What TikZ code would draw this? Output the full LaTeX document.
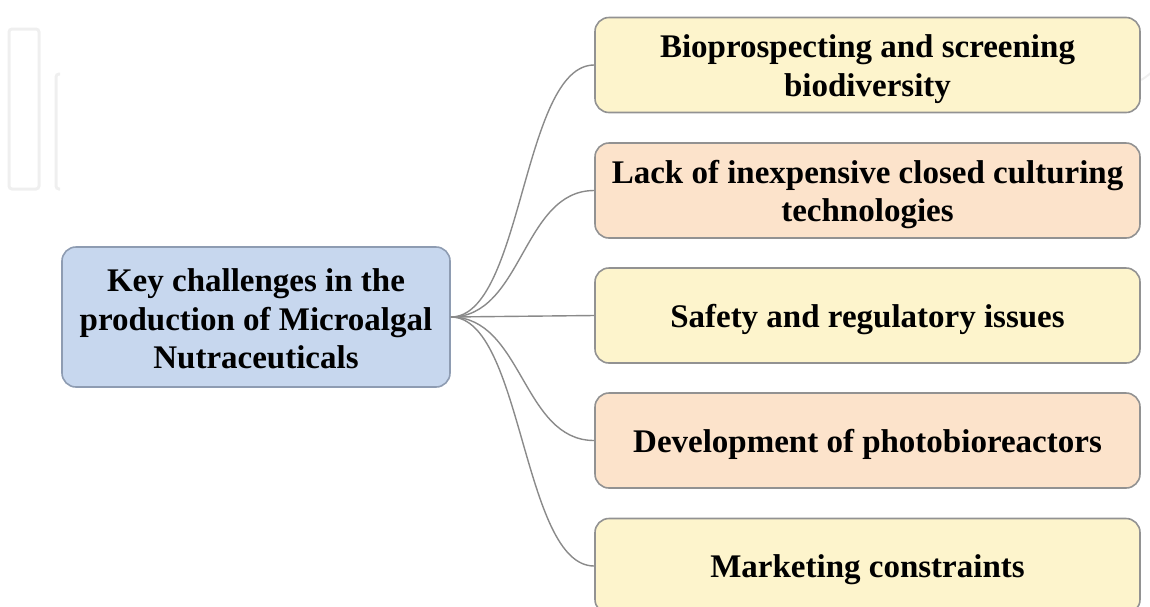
\documentclass[tikz,border=0pt]{standalone}
\usepackage{fontspec}
\setmainfont{Liberation Serif}
\definecolor{rootfill}{HTML}{C7D7EE}
\definecolor{rootline}{HTML}{8E9CB2}
\definecolor{yellowfill}{HTML}{FDF4CC}
\definecolor{orangefill}{HTML}{FCE3CB}
\definecolor{boxline}{HTML}{929292}
\definecolor{linkgray}{HTML}{8A8A8A}
\definecolor{markgray}{HTML}{EFEFEF}
\tikzset{
  box/.style={draw=boxline, line width=1.6pt, rounded corners=14pt,
    minimum width=545pt, minimum height=95pt, inner sep=0pt},
  txt/.style={align=center, inner sep=0pt, yshift=-4pt,
    font=\fontsize{33}{38.5}\selectfont\bfseries},
  rootbox/.style={box, draw=rootline, fill=rootfill, minimum width=388pt, minimum height=140pt},
  ybox/.style={box, fill=yellowfill},
  obox/.style={box, fill=orangefill},
  link/.style={draw=linkgray, line width=1.4pt},
  faintmark/.style={draw=markgray, line width=3pt, rounded corners=3pt}
}
\begin{document}
\begin{tikzpicture}[x=1pt, y=-1pt]
\useasboundingbox (0,0) rectangle (1150,606);
% faint marks in the upper left and right margins
\draw[faintmark] (9,29) rectangle (39,189);
\draw[faintmark] (60,74) -- (56,74) -- (56,189) -- (60,189);
\draw[draw=markgray, line width=2pt] (1141,80) arc[start angle=-60, end angle=60, radius=60pt];

% root node
\node[rootbox, label={[txt, yshift=2pt]center:{Key challenges in the\\production of Microalgal\\Nutraceuticals}}] (root) at (256,317) {};

% challenge nodes
\node[ybox, label={[txt]center:{Bioprospecting and screening\\biodiversity}}] (c1) at (867.5,65) {};
\node[obox, label={[txt]center:{Lack of inexpensive closed culturing\\technologies}}] (c2) at (867.5,190.5) {};
\node[ybox, label={[txt]center:{Safety and regulatory issues}}] (c3) at (867.5,315.5) {};
\node[obox, label={[txt]center:{Development of photobioreactors}}] (c4) at (867.5,440.5) {};
\node[ybox, label={[txt]center:{Marketing constraints}}] (c5) at (867.5,566) {};

% connectors
\foreach \n in {c1,c2,c3,c4,c5}{
  \draw[link] (root.east) .. controls ([xshift=72pt]root.east) and ([xshift=-72pt]\n.west) .. (\n.west);
}
\end{tikzpicture}
\end{document}
